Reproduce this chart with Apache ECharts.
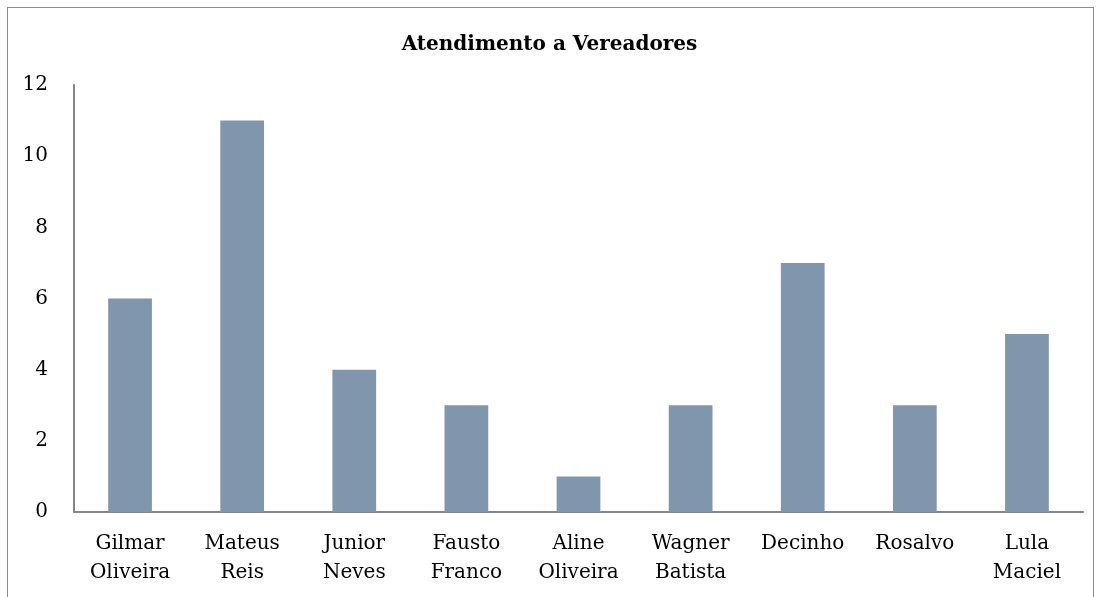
<!DOCTYPE html>
<html>
<head>
<meta charset="utf-8">
<script src="https://cdn.jsdelivr.net/npm/echarts@6/dist/echarts.min.js"></script>
<style>
  html, body { margin: 0; padding: 0; background: #fff; overflow: hidden; }
  #frame { position: absolute; left: 7px; top: 7px; width: 1085px; height: 600px; border: 1px solid #8c8c8c; border-bottom: none; }
  #chart { position: absolute; left: 0; top: 0; width: 1099px; height: 597px; }
</style>
</head>
<body>
<div id="frame"></div>
<div id="chart"></div>
<script>
// dados do gráfico
var vereadores = ['Gilmar\nOliveira', 'Mateus\nReis', 'Junior\nNeves', 'Fausto\nFranco', 'Aline\nOliveira', 'Wagner\nBatista', 'Decinho', 'Rosalvo', 'Lula\nMaciel'];
var atendimentos = [6, 11, 4, 3, 1, 3, 7, 3, 5];
var yTicks = [0, 2, 4, 6, 8, 10, 12];

var fonte = "'DejaVu Serif', 'Liberation Serif', serif";

var myChart = echarts.init(document.getElementById('chart'));
myChart.setOption({
  animation: false,
  title: {
    text: 'Atendimento a Vereadores',
    left: 'center',
    top: 30,
    textStyle: { fontFamily: fonte, fontSize: 20, fontWeight: 'bold', color: '#000' }
  },
  grid: { left: 74, right: 16, top: 85, bottom: 85, containLabel: false },
  xAxis: {
    type: 'category',
    data: vereadores,
    axisLine: { lineStyle: { color: '#868686', width: 2 } },
    axisTick: { show: false },
    axisLabel: {
      interval: 0,
      margin: 17,
      fontFamily: fonte,
      fontSize: 20,
      lineHeight: 29,
      color: '#000'
    }
  },
  yAxis: {
    type: 'value',
    min: yTicks[0],
    max: yTicks[yTicks.length - 1],
    interval: 2,
    splitLine: { show: false },
    axisLine: { show: true, lineStyle: { color: '#868686', width: 2 } },
    axisTick: { show: false },
    axisLabel: { margin: 26, fontFamily: fonte, fontSize: 20, color: '#000' }
  },
  series: [{
    type: 'bar',
    data: atendimentos,
    barWidth: '39%',
    itemStyle: { color: '#7f96ad' }
  }]
});
</script>
</body>
</html>
